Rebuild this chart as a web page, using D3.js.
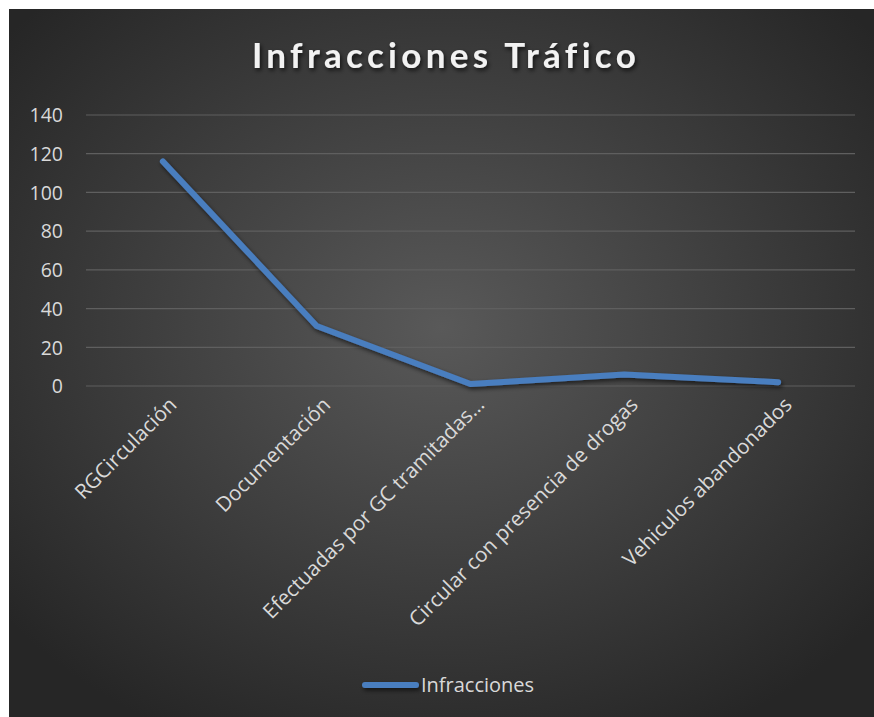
<!DOCTYPE html>
<html><head><meta charset="utf-8">
<script src="https://cdn.jsdelivr.net/npm/d3@7"></script>
<style>
html,body{margin:0;padding:0;background:#fff;}
svg{display:block;}
</style></head>
<body>
<svg id="chart" width="874" height="717"></svg>
<script>
const categories = ["RGCirculación","Documentación","Efectuadas por GC tramitadas…","Circular con presencia de drogas","Vehiculos abandonados"];
const values = [116, 31, 1, 6, 2];
const yTicks = [0,20,40,60,80,100,120,140];
const seriesName = "Infracciones";
const titleText = "Infracciones Tráfico";

const svg = d3.select("#chart");
const defs = svg.append("defs");
const rg = defs.append("radialGradient").attr("id","bg").attr("cx","50%").attr("cy","45%").attr("r","65%");
rg.append("stop").attr("offset","0%").attr("stop-color","#595959");
rg.append("stop").attr("offset","100%").attr("stop-color","#262626");
const sh = defs.append("filter").attr("id","sh").attr("filterUnits","userSpaceOnUse")
  .attr("x",0).attr("y",0).attr("width",874).attr("height",717);
sh.append("feDropShadow").attr("dx",1.5).attr("dy",2.5).attr("stdDeviation",2).attr("flood-color","#000").attr("flood-opacity",0.6);
const tsh = defs.append("filter").attr("id","tsh").attr("filterUnits","userSpaceOnUse")
  .attr("x",0).attr("y",0).attr("width",874).attr("height",717);
tsh.append("feDropShadow").attr("dx",1.5).attr("dy",2.5).attr("stdDeviation",2).attr("flood-color","#000").attr("flood-opacity",0.7);

svg.append("rect").attr("x",9).attr("y",9).attr("width",874-9).attr("height",717-9).attr("fill","url(#bg)");

const font = "'Open Sans', Lato, sans-serif";
const pLeft = 86, pRight = 855, pTop = 115, pBottom = 386;
const x = d3.scaleBand().domain(categories).range([pLeft,pRight]).padding(0);
const y = d3.scaleLinear().domain([0,140]).range([pBottom,pTop]);

svg.append("text").attr("x",446).attr("y",68).attr("text-anchor","middle")
  .attr("font-family","Lato, 'Open Sans', sans-serif").attr("font-weight","bold").attr("font-size",35)
  .attr("letter-spacing","4.3px").attr("fill","#f2f2f2").attr("filter","url(#tsh)").text(titleText);

// gridlines
svg.append("g").selectAll("line").data(yTicks).join("line")
  .attr("x1",pLeft).attr("x2",pRight).attr("y1",d=>y(d)).attr("y2",d=>y(d))
  .attr("stroke","#5f5f5f").attr("stroke-width",1.2);

// y axis
const yAxis = d3.axisLeft(y).tickValues(yTicks).tickSize(0).tickPadding(0);
const gy = svg.append("g").attr("transform",`translate(63,0)`).call(yAxis);
gy.select(".domain").remove();
gy.selectAll("text").attr("font-family",font).attr("font-size",19.5).attr("fill","#d9d9d9").attr("dy","0.35em");

// x axis
const xAxis = d3.axisBottom(x).tickSize(0).tickPadding(0);
const gx = svg.append("g").attr("transform",`translate(0,${pBottom})`).call(xAxis);
gx.select(".domain").remove();
gx.selectAll("text").attr("font-family",font).attr("font-size",20.6).attr("fill","#d9d9d9")
  .attr("text-anchor","end").attr("dy",0)
  .attr("transform","translate(15,20) rotate(-45)");

// line
const line = d3.line().x((d,i)=>x(categories[i])+x.bandwidth()/2).y(d=>y(d));
svg.append("path").datum(values).attr("d",line).attr("fill","none")
  .attr("stroke","#4a7ebf").attr("stroke-width",6).attr("stroke-linecap","round").attr("stroke-linejoin","round")
  .attr("filter","url(#sh)");

// legend
svg.append("line").attr("x1",365).attr("x2",416).attr("y1",685).attr("y2",685)
  .attr("stroke","#4a7ebf").attr("stroke-width",6).attr("stroke-linecap","round").attr("filter","url(#sh)");
svg.append("text").attr("x",421).attr("y",692).attr("font-family",font).attr("font-size",20)
  .attr("fill","#d9d9d9").text(seriesName);
</script>
</body></html>
